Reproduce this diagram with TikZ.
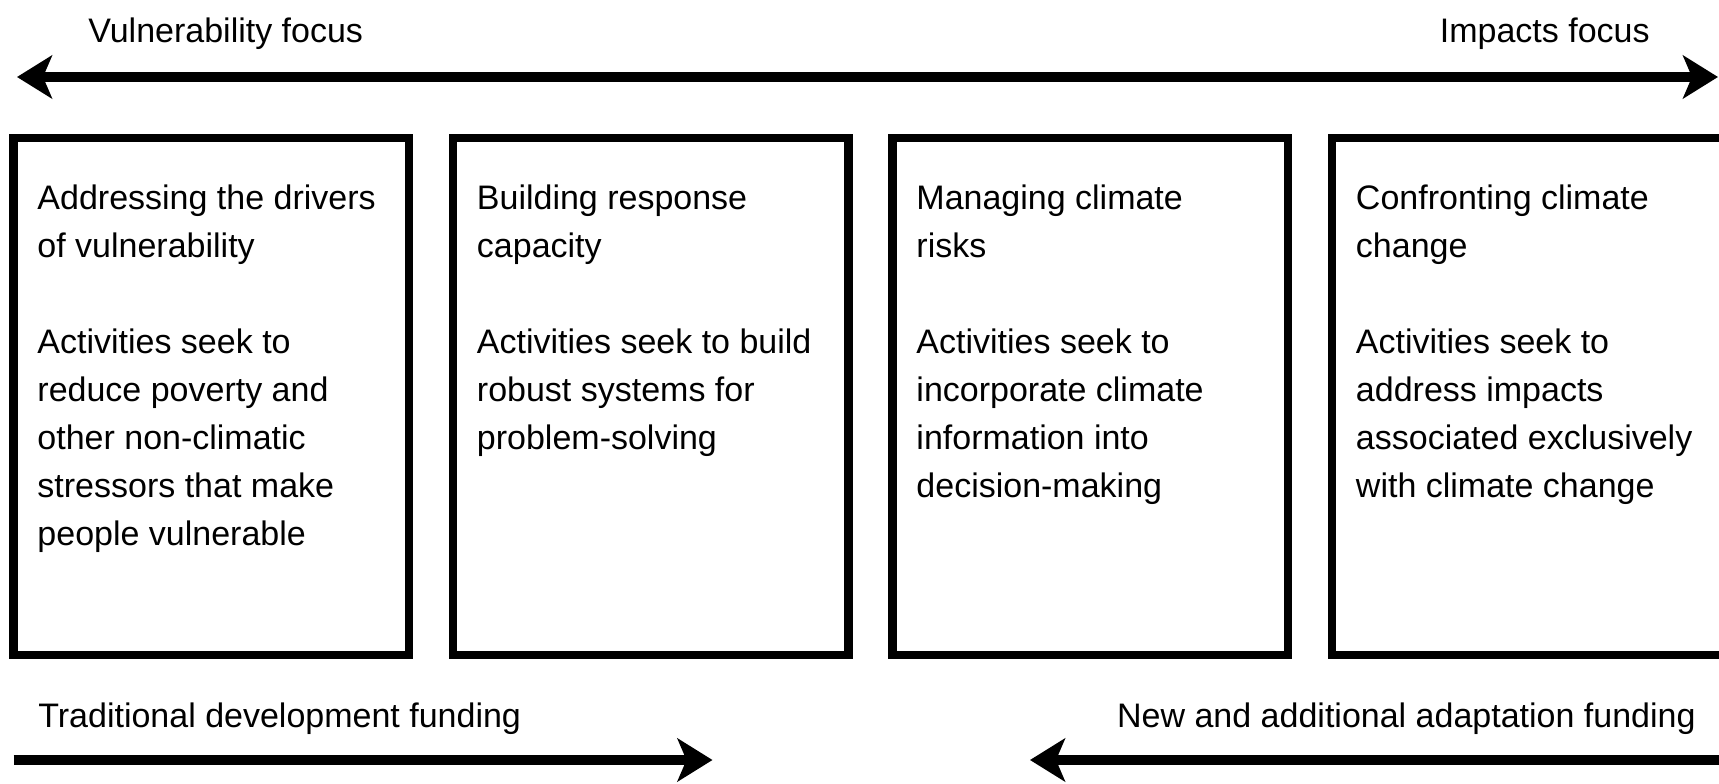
\documentclass[tikz,border=0pt]{standalone}
\usepackage{fontspec}
\setmainfont{Liberation Sans}
\usetikzlibrary{arrows.meta}

\begin{document}
\begin{tikzpicture}[x=1pt, y=1pt,
    >={Stealth[length=17.5pt, width=21.5pt, inset=4.5pt]},
    panel/.style={draw, line width=4.25pt, minimum width=197.75pt, minimum height=258.25pt, inner sep=0pt, outer sep=0pt},
    paneltext/.style={anchor=north west, align=left, inner sep=0pt, font=\fontsize{17}{24}\selectfont},
    headtext/.style={inner sep=0pt, font=\fontsize{17}{24}\selectfont},
    spanline/.style={line width=4.75pt}]
            \useasboundingbox (0,0) rectangle (859.5,391.5);
            \clip (0,0) rectangle (859.5,391.5);

            % Top scale
            \node[headtext, anchor=base west] (vulnfocus) at (44,370) {Vulnerability focus};
            \node[headtext, anchor=base east] (impfocus) at (825,370) {Impacts focus};
            \coordinate (scaleL) at (8.5,353);
            \coordinate (scaleR) at (859,353);
            \draw[spanline, <->] (scaleL) -- (scaleR);

            % Boxes
            \node[panel] (drivers) at (105.5,193.25) {};
            \node[panel] (capacity) at (325.25,193.25) {};
            \node[panel] (risks) at (545,193.25) {};
            \node[panel] (change) at (764.75,193.25) {};

            % Box texts (top of first line ~12.3pt above its baseline)
            \node[paneltext] (driverstxt) at ([shift={(11.9,-23.2)}]drivers.north west)
                {Addressing the drivers\\of vulnerability\\[24pt]Activities seek to\\reduce poverty and\\other non-climatic\\stressors that make\\people vulnerable};
            \node[paneltext] (capacitytxt) at ([shift={(11.9,-23.2)}]capacity.north west)
                {Building response\\capacity\\[24pt]Activities seek to build\\robust systems for\\problem-solving};
            \node[paneltext] (riskstxt) at ([shift={(11.9,-23.2)}]risks.north west)
                {Managing climate\\risks\\[24pt]Activities seek to\\incorporate climate\\information into\\decision-making};
            \node[paneltext] (changetxt) at ([shift={(11.9,-23.2)}]change.north west)
                {Confronting climate\\change\\[24pt]Activities seek to\\address impacts\\associated exclusively\\with climate change};

            % Funding arrows
            \node[headtext, anchor=base west] (tradfund) at (19,28) {Traditional development funding};
            \node[headtext, anchor=base east] (newfund) at (848,28) {New and additional adaptation funding};
            \coordinate (tradL) at (6.75,11.5);
            \coordinate (tradR) at (356.25,11.5);
            \coordinate (newL) at (515,11.5);
            \coordinate (newR) at (862,11.5);
            \draw[spanline, ->] (tradL) -- (tradR);
            \draw[spanline, ->] (newR) -- (newL);
        \end{tikzpicture}
\end{document}
